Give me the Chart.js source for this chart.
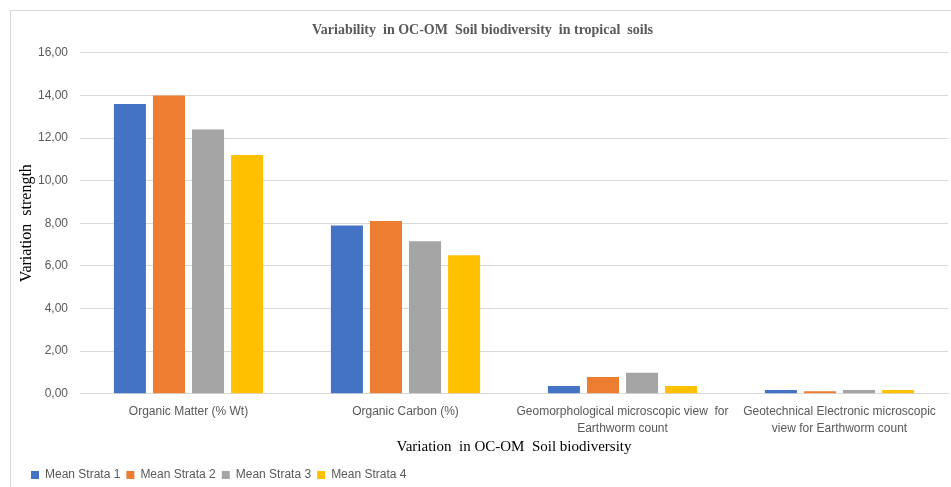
<!DOCTYPE html>
<html>
<head>
<meta charset="utf-8">
<script src="https://cdn.jsdelivr.net/npm/chart.js@4/dist/chart.umd.min.js"></script>
<style>
  html, body { margin: 0; padding: 0; background: #fff; overflow: hidden; width: 951px; height: 487px; }
  #frame { position: absolute; left: 10px; top: 10px; width: 954px; height: 484px; border: 1px solid #d9d9d9; box-sizing: border-box; }
  #chart { display: block; }
</style>
</head>
<body>
<div id="frame"><canvas id="chart" width="952" height="482"></canvas></div>
<script>
const categories = [
  "Organic Matter (% Wt)",
  "Organic Carbon (%)",
  ["Geomorphological microscopic view  for", "Earthworm count"],
  ["Geotechnical Electronic microscopic", "view for Earthworm count"]
];
const seriesNames = ["Mean Strata 1", "Mean Strata 2", "Mean Strata 3", "Mean Strata 4"];
const strata1 = [13.6, 7.9, 0.36, 0.17];
const strata2 = [14.0, 8.1, 0.78, 0.11];
const strata3 = [12.4, 7.15, 0.98, 0.17];
const strata4 = [11.2, 6.5, 0.36, 0.17];
const colors = ["#4472c4", "#ed7d31", "#a5a5a5", "#ffc000"];

const serif = "'Liberation Serif', 'DejaVu Serif', serif";
const sans = "'Liberation Sans', 'Open Sans', sans-serif";

// nudge the legend row in from the left edge of the frame
const legendIndent = {
  id: "legendIndent",
  afterLayout(chart) {
    if (chart.legend) chart.legend.left += 8;
  }
};

new Chart(document.getElementById("chart"), {
  type: "bar",
  data: {
    labels: categories,
    datasets: [strata1, strata2, strata3, strata4].map((vals, i) => ({
      label: seriesNames[i],
      data: vals,
      backgroundColor: colors[i],
      borderWidth: 0,
      categoryPercentage: 0.72,
      barPercentage: 0.82
    }))
  },
  options: {
    responsive: false,
    animation: false,
    layout: { padding: { top: 8, right: 15, left: 6, bottom: 2 } },
    plugins: {
      title: {
        display: true,
        text: "Variability  in OC-OM  Soil biodiversity  in tropical  soils",
        font: { family: serif, size: 14, weight: "bold" },
        color: "#595959",
        padding: { top: 3, bottom: 14 }
      },
      legend: {
        position: "bottom",
        align: "start",
        labels: {
          boxWidth: 8,
          boxHeight: 8,
          padding: 6,
          font: { family: sans, size: 12 },
          color: "#595959"
        }
      },
      tooltip: { enabled: false }
    },
    scales: {
      x: {
        grid: { display: false },
        border: { display: true, color: "#d9d9d9" },
        ticks: {
          font: { family: sans, size: 12, lineHeight: 1.45 },
          color: "#595959",
          maxRotation: 0,
          autoSkip: false,
          padding: 1
        },
        title: {
          display: true,
          text: "Variation  in OC-OM  Soil biodiversity",
          font: { family: serif, size: 15, lineHeight: 1.1 },
          color: "#000",
          padding: { top: 0, bottom: 8 }
        }
      },
      y: {
        min: 0,
        max: 16,
        afterFit(scale) { scale.width = 63; },
        ticks: {
          stepSize: 2,
          font: { family: sans, size: 12 },
          color: "#595959",
          padding: 12,
          callback: v => v.toFixed(2).replace(".", ",")
        },
        grid: { color: "#d9d9d9", drawTicks: false },
        border: { display: false },
        title: {
          display: true,
          text: "Variation  strength",
          font: { family: serif, size: 16 },
          color: "#000",
          padding: { top: 0, bottom: 0 }
        }
      }
    }
  },
  plugins: [legendIndent]
});
</script>
</body>
</html>
